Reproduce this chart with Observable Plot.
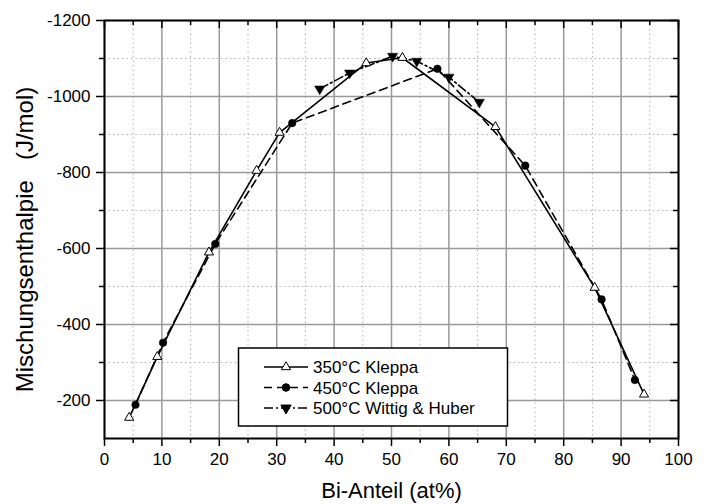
<!DOCTYPE html>
<html>
<head>
<meta charset="utf-8">
<script src="https://cdn.jsdelivr.net/npm/d3@7"></script>
<script src="https://cdn.jsdelivr.net/npm/@observablehq/plot@0.6"></script>
<style>
  html, body { margin: 0; padding: 0; background: white; }
  svg { white-space: pre; }
</style>
</head>
<body>
<div id="chart"></div>
<script>
// --- data ---
const bi350 = [4.3, 9.2, 18.2, 26.5, 30.5, 45.6, 51.9, 68.1, 85.4, 94.0];
const h350  = [-155, -315, -590, -805, -905, -1088, -1102, -920, -497, -216];
const bi450 = [5.4, 10.2, 19.3, 32.7, 58.0, 73.3, 86.6, 92.4];
const h450  = [-189, -352, -612, -930, -1073, -818, -466, -254];
const bi500 = [37.5, 42.7, 50.2, 54.4, 60.0, 65.3];
const h500  = [-1020, -1062, -1106, -1093, -1051, -985];

const seriesNames = ["350°C Kleppa", "450°C Kleppa", "500°C Wittig & Huber"];
const xMajor = [0, 10, 20, 30, 40, 50, 60, 70, 80, 90, 100];
const xMinor = [5, 15, 25, 35, 45, 55, 65, 75, 85, 95];
const yMajor = [-200, -400, -600, -800, -1000, -1200];
const yMinor = [-300, -500, -700, -900, -1100];
const xTitle = "Bi-Anteil (at%)";
const yTitle = "Mischungsenthalpie   (J/mol)";

const s350 = bi350.map((x, i) => ({x, y: h350[i]}));
const s450 = bi450.map((x, i) => ({x, y: h450[i]}));
const s500 = bi500.map((x, i) => ({x, y: h500[i]}));

const W = 708, H = 504;
const mL = 104, mR = 30, mT = 20, mB = 66;
const innerW = W - mL - mR, innerH = H - mT - mB;
const dash450 = "8,5";
const dash500 = "9,3,2,3";
const font = "'Liberation Sans', Arial, sans-serif";

const chart = Plot.plot({
  width: W, height: H,
  marginLeft: mL, marginRight: mR, marginTop: mT, marginBottom: mB,
  style: {fontFamily: font, fontSize: "17px", color: "black", background: "white"},
  x: {domain: [0, 100]},
  y: {domain: [-100, -1200]},
  marks: [
    Plot.gridX(xMinor, {stroke: "#b0b0b0", strokeOpacity: 1, strokeWidth: 1, strokeDasharray: "1.5,3"}),
    Plot.gridY(yMinor, {stroke: "#b0b0b0", strokeOpacity: 1, strokeWidth: 1, strokeDasharray: "1.5,3"}),
    Plot.gridX(xMajor, {stroke: "#999", strokeOpacity: 1, strokeWidth: 1.5}),
    Plot.gridY(yMajor, {stroke: "#999", strokeOpacity: 1, strokeWidth: 1.5}),
    Plot.axisX(xMajor, {tickSize: 8, tickPadding: 6, strokeWidth: 1.5, fontSize: 17, label: null, tickFormat: d => String(d)}),
    Plot.axisX(xMinor, {tickSize: 5, strokeWidth: 1.5, label: null, tickFormat: () => ""}),
    Plot.axisY(yMajor, {tickSize: 8, tickPadding: 6, strokeWidth: 1.5, fontSize: 17, label: null, tickFormat: d => String(d)}),
    Plot.axisY(yMinor, {tickSize: 5, strokeWidth: 1.5, label: null, tickFormat: () => ""}),
    Plot.tickX(xMajor, {x: d => d, insetBottom: innerH - 8, stroke: "black", strokeWidth: 1.5}),
    Plot.tickX(xMinor, {x: d => d, insetBottom: innerH - 5, stroke: "black", strokeWidth: 1.5}),
    Plot.tickY(yMajor, {y: d => d, insetLeft: innerW - 8, stroke: "black", strokeWidth: 1.5}),
    Plot.tickY(yMinor, {y: d => d, insetLeft: innerW - 5, stroke: "black", strokeWidth: 1.5}),
    Plot.frame({stroke: "black", strokeWidth: 2}),
    Plot.line(s350, {x: "x", y: "y", stroke: "black", strokeWidth: 1.6}),
    Plot.line(s450, {x: "x", y: "y", stroke: "black", strokeWidth: 1.6, strokeDasharray: dash450}),
    Plot.line(s500, {x: "x", y: "y", stroke: "black", strokeWidth: 1.6, strokeDasharray: dash500}),
    Plot.dot(s350, {x: "x", y: "y", symbol: "triangle", r: 3.4, fill: "white", stroke: "black", strokeWidth: 1}),
    Plot.dot(s450, {x: "x", y: "y", symbol: "circle", r: 3.8, fill: "black", stroke: "black", strokeWidth: 0.5}),
    Plot.dot(s500, {x: "x", y: "y", symbol: "triangle", rotate: 180, r: 3.8, fill: "black", stroke: "black", strokeWidth: 0.5}),
    Plot.text([xTitle], {frameAnchor: "bottom", dy: 52, lineAnchor: "middle", textAnchor: "middle", fontSize: 22, fill: "black"}),
    Plot.text([yTitle], {frameAnchor: "left", dx: -79, dy: 10, rotate: -90, lineAnchor: "middle", textAnchor: "middle", fontSize: 24, fill: "black"})
  ]
});

// legend drawn onto the plot's svg
const svg = d3.select(chart);
const lg = svg.append("g").attr("font-family", font).attr("font-size", 17).attr("text-anchor", "start");
lg.append("rect").attr("x", 238.5).attr("y", 348).attr("width", 269).attr("height", 78)
  .attr("fill", "white").attr("stroke", "black").attr("stroke-width", 1.5);
const legendRows = [
  {name: seriesNames[0], dash: null, type: d3.symbolTriangle, r: 3.4, fill: "white", rot: 0},
  {name: seriesNames[1], dash: dash450, type: d3.symbolCircle, r: 3.8, fill: "black", rot: 0},
  {name: seriesNames[2], dash: dash500, type: d3.symbolTriangle, r: 3.8, fill: "black", rot: 180}
];
legendRows.forEach((row, i) => {
  const cy = 367 + i * 20.5;
  const ln = lg.append("line").attr("x1", 264).attr("x2", 308).attr("y1", cy).attr("y2", cy)
    .attr("stroke", "black").attr("stroke-width", 1.6);
  if (row.dash) ln.attr("stroke-dasharray", row.dash);
  lg.append("path").attr("d", d3.symbol(row.type, Math.PI * row.r * row.r)())
    .attr("transform", `translate(286,${cy}) rotate(${row.rot})`)
    .attr("fill", row.fill).attr("stroke", "black").attr("stroke-width", 1);
  lg.append("text").attr("x", 313).attr("y", cy).attr("dy", "0.36em")
    .attr("text-anchor", "start").attr("fill", "black").text(row.name);
});

document.getElementById("chart").appendChild(chart);
</script>
</body>
</html>
